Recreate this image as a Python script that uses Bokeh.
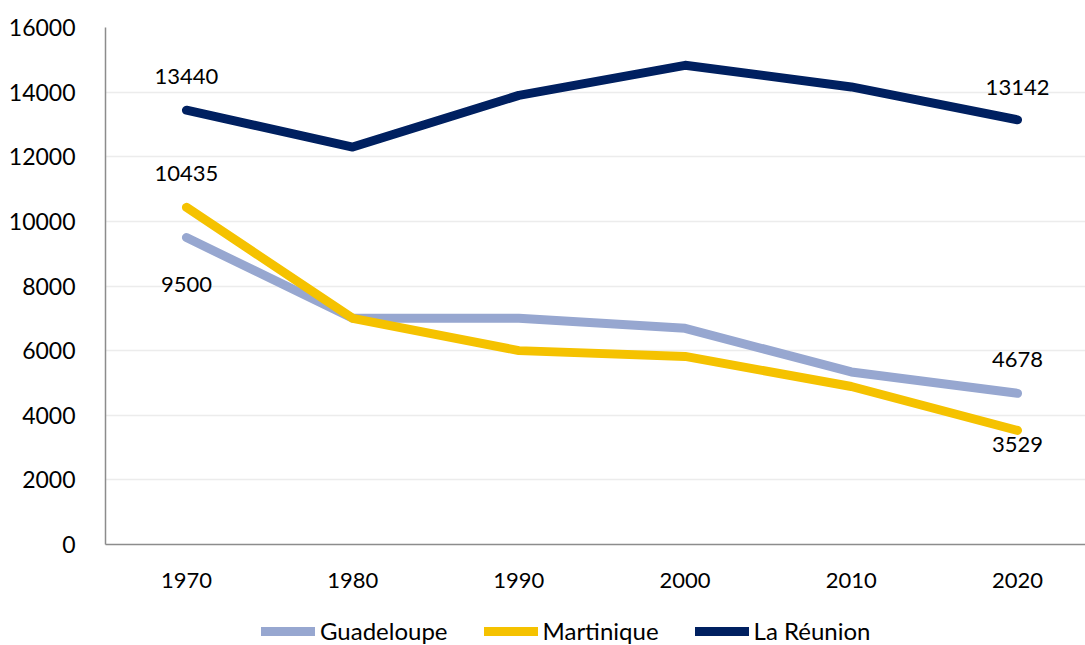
from bokeh.plotting import figure
from bokeh.layouts import column
from bokeh.models import Range1d, FixedTicker, Legend, LegendItem, ColumnDataSource
from bokeh.core.properties import value
from bokeh.embed import file_html
from bokeh.resources import INLINE

# Decennial series
years = [1970, 1980, 1990, 2000, 2010, 2020]
guadeloupe = [9500, 7000, 7000, 6690, 5340, 4678]
martinique = [10435, 7000, 6000, 5820, 4890, 3529]
reunion = [13440, 12300, 13900, 14830, 14160, 13142]

y_ticks = [0, 2000, 4000, 6000, 8000, 10000, 12000, 14000, 16000]

FONT = "Lato"
FS = "22px"
W = 1085
MAIN_H = 600
LEG_H = 45

p = figure(width=W, height=MAIN_H, output_backend="svg", toolbar_location=None,
           x_range=Range1d(1965.13, 2024.09), y_range=Range1d(0, 16000),
           min_border_left=105, min_border_right=0, min_border_top=27,
           min_border_bottom=56)
p.outline_line_color = None
p.background_fill_color = "white"
p.border_fill_color = "white"

# axes
p.xaxis.ticker = FixedTicker(ticks=years)
p.yaxis.ticker = FixedTicker(ticks=y_ticks)
for ax in (p.xaxis[0], p.yaxis[0]):
    ax.major_tick_line_color = None
    ax.minor_tick_line_color = None
    ax.axis_line_color = "#8c8c8c"
    ax.axis_line_width = 1.5
    ax.major_label_text_font = FONT
    ax.major_label_text_font_size = FS
    ax.major_label_text_color = "#000000"
p.yaxis.major_label_text_font_size = "23px"
p.yaxis.major_label_standoff = 24
p.xaxis.major_label_standoff = 22
p.xgrid.grid_line_color = None
p.ygrid.grid_line_color = "#ececec"
p.ygrid.grid_line_width = 1.5

series = [
    ("Guadeloupe", guadeloupe, "#97a7d0"),
    ("Martinique", martinique, "#f5c200"),
    ("La Réunion", reunion, "#002060"),
]
for name, vals, color in series:
    p.line(years, vals, line_color=color, line_width=9,
           line_cap="round", line_join="round")

# value labels at the first and last year
def end_labels(vals, off_first, off_last):
    return ColumnDataSource(dict(
        x=[years[0], years[-1]], y=[vals[0], vals[-1]],
        t=[str(vals[0]), str(vals[-1])], off=[off_first, off_last]))

label_specs = [
    (guadeloupe, 47, -34),
    (martinique, -34, 14),
    (reunion, -34, -32),
]
for vals, o1, o2 in label_specs:
    src = end_labels(vals, o1, o2)
    p.text(x="x", y="y", text="t", y_offset="off", source=src,
           text_font=value(FONT), text_font_size=FS, text_color="#000000",
           text_align="center", text_baseline="middle")

# legend strip under the chart; its line renderers sit outside the visible range
lg = figure(width=W, height=LEG_H, output_backend="svg", toolbar_location=None,
            x_axis_type=None, y_axis_type=None, min_border=0,
            min_border_left=105, min_border_right=0,
            x_range=Range1d(0, 1), y_range=Range1d(0, 1))
lg.outline_line_color = None
lg.xgrid.visible = False
lg.ygrid.visible = False
items = []
for name, vals, color in series:
    r = lg.line([-3, -2], [-3, -2], line_color=color, line_width=9, line_cap="round")
    items.append(LegendItem(label=name, renderers=[r]))

legend = Legend(items=items, orientation="horizontal", location=(156, 0),
                glyph_width=54, glyph_height=10, label_standoff=5, spacing=36,
                padding=0, margin=0, border_line_color=None,
                background_fill_alpha=0,
                label_text_font=FONT, label_text_font_size="24px",
                label_text_color="#000000")
lg.add_layout(legend, "center")

layout = column(p, lg, spacing=0)
open("out.html", "w").write(file_html(layout, INLINE))
